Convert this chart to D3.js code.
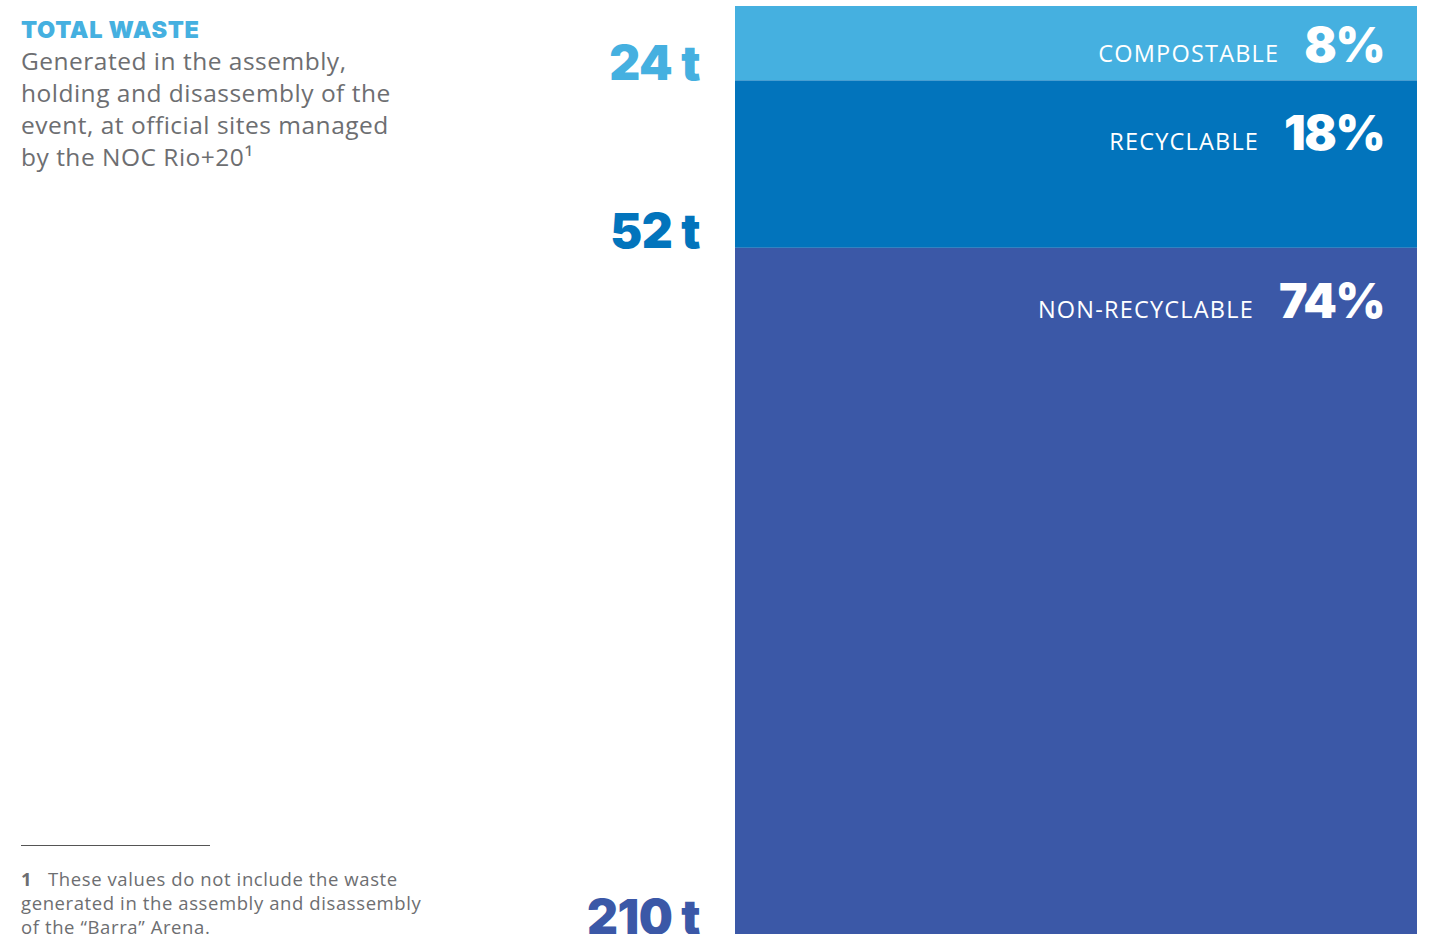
<!DOCTYPE html>
<html>
<head>
<meta charset="utf-8">
<script src="https://cdn.jsdelivr.net/npm/d3@7"></script>
<style>
  html, body { margin: 0; padding: 0; background: #fff; }
  svg { display: block; }
</style>
</head>
<body>
<svg id="chart" width="1434" height="934"></svg>
<script>
// Waste composition, stacked top to bottom
const categories = ["COMPOSTABLE", "RECYCLABLE", "NON-RECYCLABLE"];
const tonnes = [24, 52, 210];
const shares = [8, 18, 74];
const colors = ["#45b0e0", "#0274bc", "#3b58a7"];

const titleText = "TOTAL WASTE";
const descLines = [
  "Generated in the assembly,",
  "holding and disassembly of the",
  "event, at official sites managed",
  "by the NOC Rio+20\u00b9"
];
const noteLines = [
  "These values do not include the waste",
  "generated in the assembly and disassembly",
  "of the \u201cBarra\u201d Arena."
];

const svg = d3.select("#chart");
const heavy = "Inter, Lato, 'Open Sans', sans-serif";
const book = "'Open Sans', 'Noto Sans', Lato, sans-serif";

// stacked layout: cumulative share per segment
const segs = categories.map((c, i) => ({
  cat: c, t: tonnes[i], pct: shares[i], color: colors[i],
  start: d3.sum(shares.slice(0, i)), end: d3.sum(shares.slice(0, i + 1))
}));

const y = d3.scaleLinear().domain([0, 100]).range([6, 936]);
const x = d3.scaleLinear().domain([0, 1]).range([735, 1417]);

// bar segments
svg.append("g").selectAll("rect").data(segs).join("rect")
  .attr("x", x(0))
  .attr("width", x(1) - x(0))
  .attr("y", d => y(d.start))
  .attr("height", d => y(d.end) - y(d.start))
  .attr("fill", d => d.color);

// tonnage labels sitting at each segment's lower edge
svg.append("g").selectAll("text").data(segs).join("text")
  .attr("x", 700)
  .attr("y", d => Math.min(y(d.end), 934))
  .attr("text-anchor", "end")
  .attr("font-family", heavy)
  .attr("font-weight", 900)
  .attr("font-size", 48)
  .attr("letter-spacing", -0.5)
  .attr("fill", d => d.color)
  .text(d => d.t + " t");

// percentage + category labels inside the bar
const labelY = d => y(d.start) + Math.min(70, 0.75 * (y(d.end) - y(d.start)));
const inner = svg.append("g").selectAll("g").data(segs).join("g");
const pctText = inner.append("text")
  .attr("x", 1384)
  .attr("y", labelY)
  .attr("text-anchor", "end")
  .attr("font-family", heavy)
  .attr("font-weight", 900)
  .attr("font-size", 48)
  .attr("letter-spacing", -1.5)
  .attr("fill", "#fff")
  .text(d => d.pct + "%");
inner.append("text")
  .attr("x", function(d, i) {
    const w = pctText.nodes()[i].getComputedTextLength();
    return 1384 - w - 25;
  })
  .attr("y", labelY)
  .attr("text-anchor", "end")
  .attr("font-family", book)
  .attr("font-size", 23.5)
  .attr("letter-spacing", 1.2)
  .attr("fill", "#fff")
  .text(d => d.cat);

// heading
svg.append("text")
  .attr("x", 21).attr("y", 38)
  .attr("font-family", heavy)
  .attr("font-weight", 900)
  .attr("font-size", 23.5)
  .attr("letter-spacing", 0.7)
  .attr("fill", "#45b0e0")
  .text(titleText);

svg.append("g").selectAll("text").data(descLines).join("text")
  .attr("x", 21)
  .attr("y", (d, i) => 70 + i * 32)
  .attr("font-family", book)
  .attr("font-size", 24.5)
  .attr("letter-spacing", 0.5)
  .attr("fill", "#6d6e71")
  .text(d => d);

// footnote
svg.append("line")
  .attr("x1", 21).attr("x2", 210)
  .attr("y1", 845.5).attr("y2", 845.5)
  .attr("stroke", "#555").attr("stroke-width", 1);

svg.append("text")
  .attr("x", 21).attr("y", 886)
  .attr("font-family", book)
  .attr("font-weight", 700)
  .attr("font-size", 18.5)
  .attr("fill", "#6d6e71")
  .text("1");

svg.append("g").selectAll("text").data(noteLines).join("text")
  .attr("x", (d, i) => i === 0 ? 48 : 21)
  .attr("y", (d, i) => 886 + i * 24)
  .attr("font-family", book)
  .attr("font-size", 18.5)
  .attr("letter-spacing", 0.6)
  .attr("fill", "#6d6e71")
  .text(d => d);
</script>
</body>
</html>
